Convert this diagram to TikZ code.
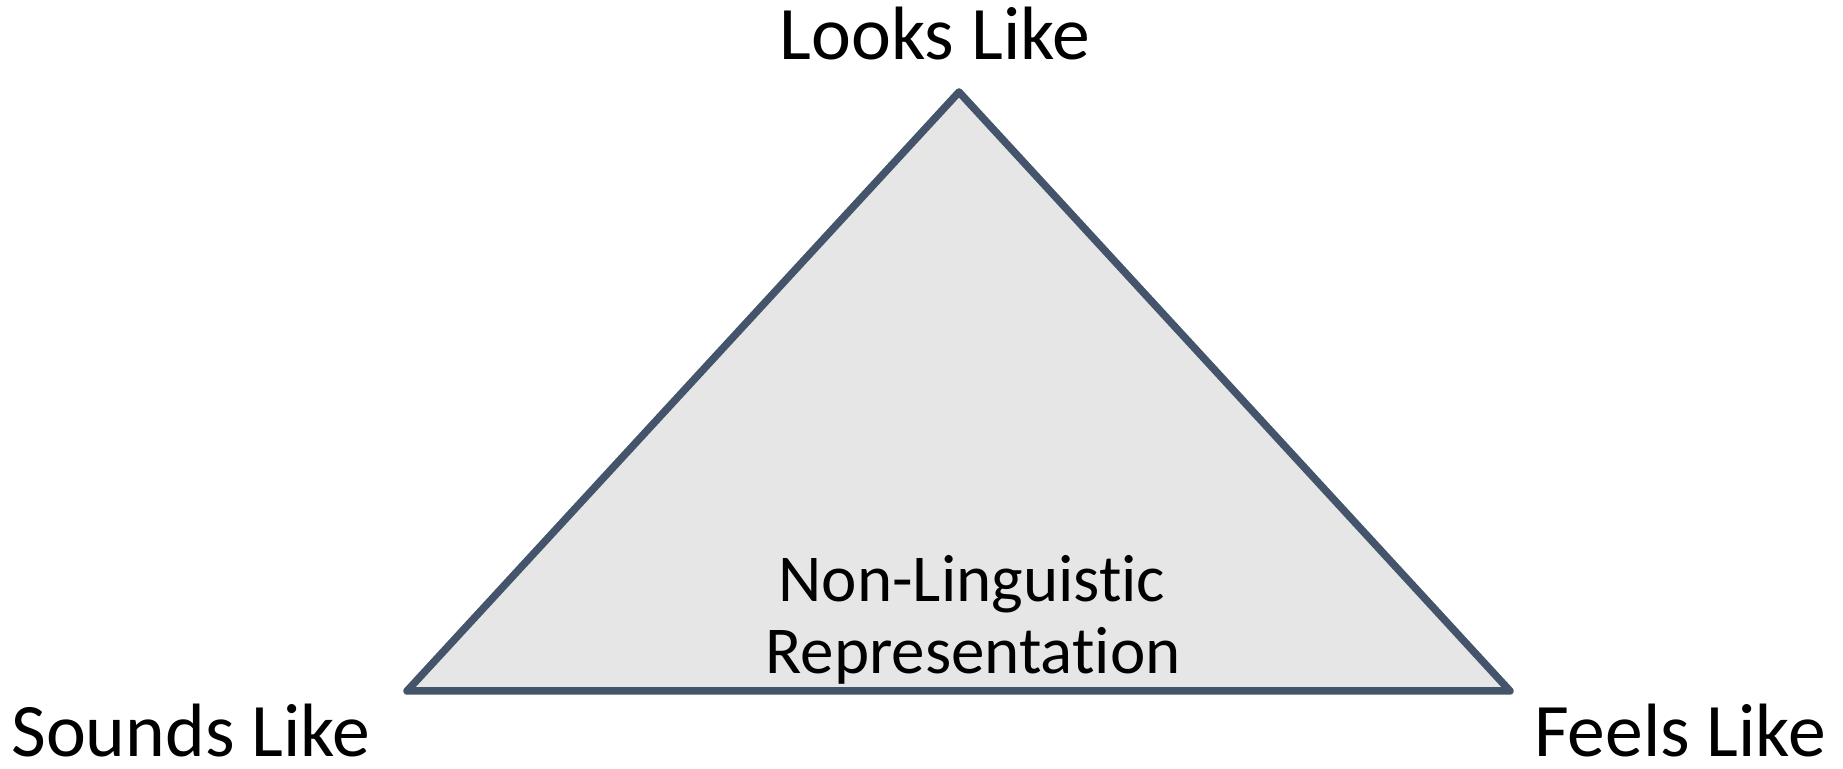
\documentclass[tikz,border=0pt]{standalone}
\usepackage{fontspec}
\setmainfont{Carlito}[RawFeature={-liga}]
\definecolor{edge}{HTML}{44546A}
\definecolor{face}{HTML}{E6E6E6}
\begin{document}
\begin{tikzpicture}[x=0.5pt,y=-0.5pt,
  lbl/.style={font=\fontsize{37.8}{41}\selectfont, inner sep=0pt, anchor=base},
  inner/.style={font=\fontsize{33.5}{36}\selectfont, inner sep=0pt, anchor=base}]
\useasboundingbox (0,0) rectangle (1843,769);
\coordinate (top) at (959,92);
\coordinate (bl) at (407,691);
\coordinate (br) at (1510,691);
\draw[edge, fill=face, line width=3.75pt, line join=round] (top) -- (br) -- (bl) -- cycle;
\node[lbl] (looks) at (935,60) {Looks Like};
\node[lbl, anchor=base west] (sounds) at (11,756) {Sounds Like};
\node[lbl, anchor=base east] (feels) at (1826,757) {Feels Like};
\node[inner] (nl1) at (972,602) {Non-Linguistic};
\node[inner] (nl2) at (973,674) {Representation};
\end{tikzpicture}
\end{document}
